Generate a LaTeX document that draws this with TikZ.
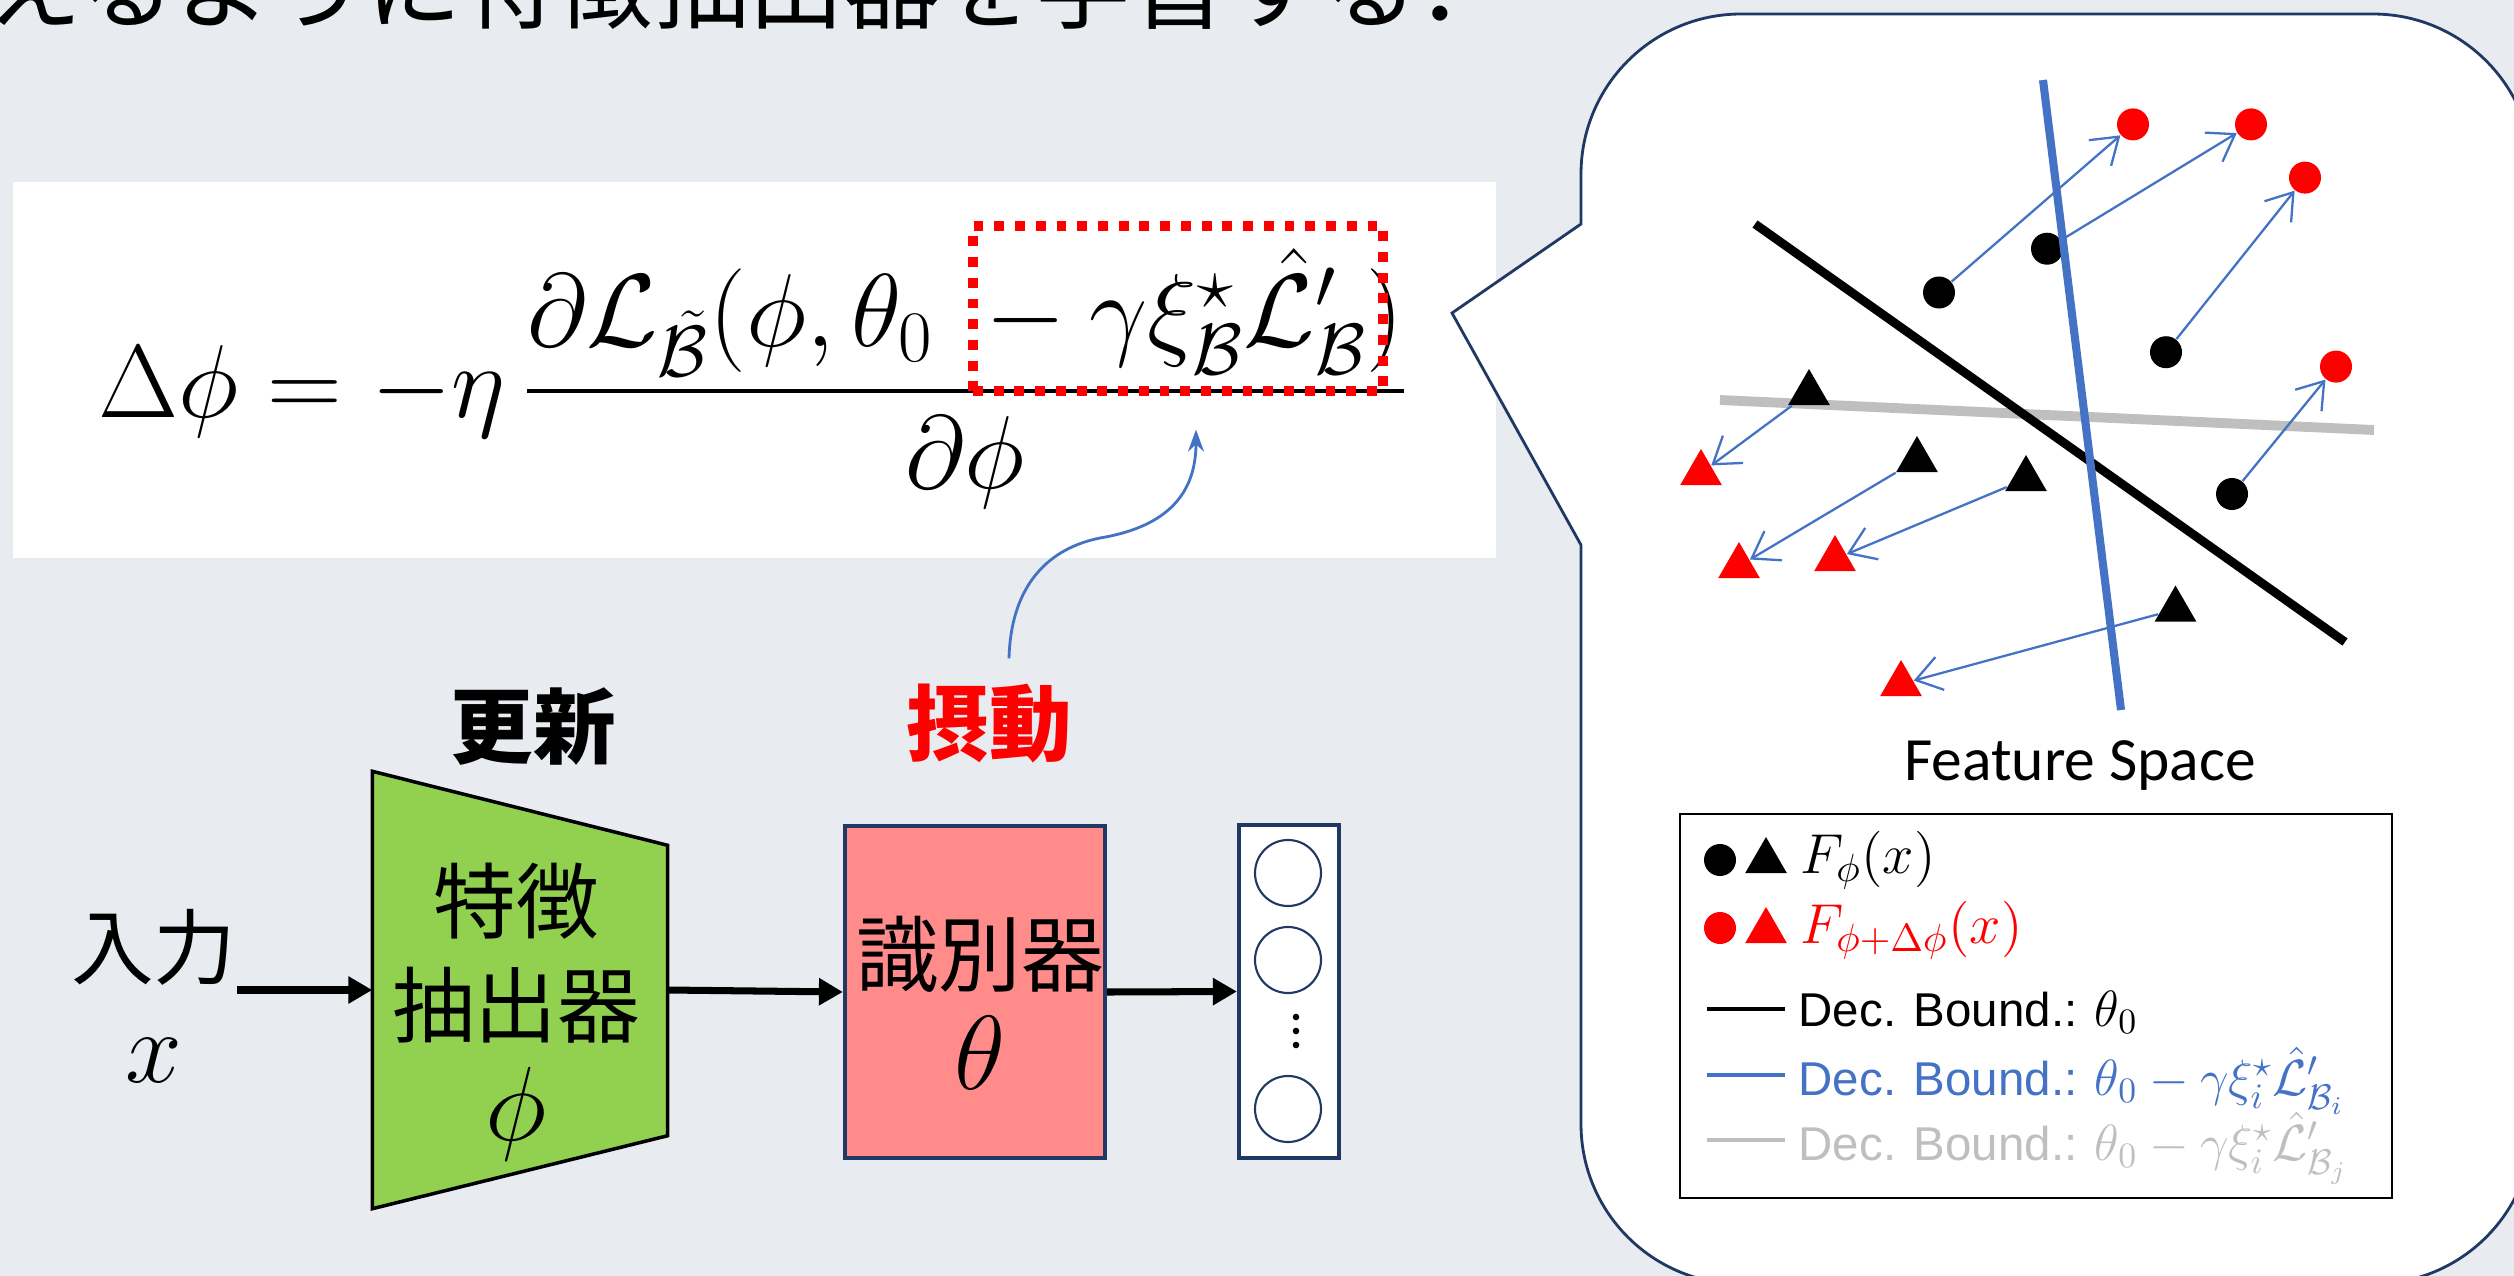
\RequirePackage{fix-cm}
\documentclass[tikz,border=0pt]{standalone}
\usepackage{amsmath,amssymb}
\usepackage{fontspec}
\newfontfamily\jpfont{Noto Sans CJK JP}
\newfontfamily\calibri{Carlito}
\newfontfamily\arial{Liberation Sans}
\usepackage{tikz}
\usetikzlibrary{arrows.meta,positioning,calc,shapes.geometric}
\definecolor{slide}{RGB}{232,235,240}
\definecolor{navy}{RGB}{31,56,100}
\definecolor{officeblue}{RGB}{68,114,196}
\definecolor{leaf}{RGB}{146,208,80}
\definecolor{salmon}{RGB}{255,139,139}
\definecolor{boundgray}{RGB}{191,191,191}
% bigger math inside the slide texts
\newcommand{\bigmath}[2]{{\fontsize{#1}{#1}\selectfont$#2$}}

\begin{document}
\begin{tikzpicture}[
      jp/.style={font=\jpfont\fontsize{23.5}{29.5}\selectfont, align=center, inner sep=0pt},
      heading/.style={font=\jpfont\bfseries\fontsize{23.5}{28}\selectfont, inner sep=0pt},
      flow/.style={-{Triangle[length=2.4mm,width=2.6mm]}, line width=2pt},
      fdot/.style={circle, inner sep=0pt, minimum size=3.2mm, fill=#1},
      ftri/.style={regular polygon, regular polygon sides=3, inner sep=0pt,
                   minimum size=4.8mm, fill=#1},
      moved/.style={officeblue, line width=0.65pt,
                    -{Straight Barb[length=2.5mm,width=3.4mm]}},
      key/.style={anchor=base west, inner sep=0pt, font=\fontsize{13.5}{16}\selectfont},
    ]
    % Canvas
    \useasboundingbox (0,0) rectangle (25.14,-12.76);
    \clip (0,0) rectangle (25.14,-12.76);
    \fill[slide] (0,0) rectangle (25.14,-12.76);

    % Caption line cut at the top
    \node[anchor=base west, inner sep=0pt, font=\jpfont\fontsize{27.2}{30}\selectfont]
      (caption) at (-0.14,-0.21) {えるように特徴抽出器を学習する．};

    % Update rule
    \fill[white] (0.13,-1.82) rectangle (14.96,-5.58);
    \node[anchor=base west, inner sep=0pt, font=\fontsize{29.5}{35}\selectfont] (rule) at (0.98,-4.17)
      {$\displaystyle\Delta\phi=-\eta\,\frac{\partial\mathcal{L}_{\tilde{\mathcal{B}}}(\phi,\theta_0\;-\gamma\xi^{\star}_{\mathcal{B}}\hat{\mathcal{L}}'_{\mathcal{B}})}{\partial\phi}$};
    \node[draw=red, line width=2.6pt, dash pattern=on 2.8pt off 3.1pt,
          minimum width=4.1cm, minimum height=1.65cm, inner sep=0pt] (pert) at (11.78,-3.085) {};

    % Network
    \node[jp] (inp) at (1.54,-9.96) {入力\\\bigmath{29}{x}};
    \node[minimum width=2.94cm, minimum height=4.36cm, inner sep=0pt] (fe) at (5.20,-9.90) {};
    \draw[fill=leaf, line width=1pt] (fe.north west) -- ($(fe.north east)+(0,-0.74)$)
      -- ($(fe.south east)+(0,0.73)$) -- (fe.south west) -- cycle;
    \node[jp] (fetext) at (5.16,-10.12) {特徴\\抽出器\\\bigmath{30}{\phi}};
    \node[draw=navy, fill=salmon, line width=1.2pt, minimum width=2.6cm,
          minimum height=3.32cm] (clf) at (9.75,-9.92) {};
    \node[jp] (clftext) at (9.80,-10.03) {識別器\\\bigmath{30}{\theta}};
    \node[draw=navy, fill=white, line width=1.2pt, minimum width=1cm,
          minimum height=3.33cm] (outp) at (12.89,-9.915) {};
    \foreach \y/\n in {-8.73/1,-9.60/2,-11.09/3}
      \node[circle, draw=navy, line width=0.6pt, minimum size=6.6mm, inner sep=0pt] (o\n) at (12.88,\y) {};
    \foreach \y in {-10.17,-10.31,-10.45}
      \fill (12.96,\y) circle (0.033);

    \node[heading, above=0.5mm of fe, xshift=1.3mm] (update) {更新};
    \node[heading, text=red, above=6mm of clf, xshift=1.4mm] (perturb) {摂動};

    \draw[flow] (inp.east |- fe.west) -- (fe.west);
    \draw[flow] (fe.east) -- (clf.west);
    \draw[flow] (clf.east) -- (outp.west);

    % Pointer to the perturbed term
    \coordinate (bend) at (11.00,-5.38);
    \draw[officeblue, line width=0.8pt, -{Stealth[length=2.2mm,width=1.6mm]}]
      ([xshift=2mm,yshift=2.5mm]perturb.north) .. controls +(0.02,0.75) and +(-0.5,-0.1) .. (bend)
      .. controls +(0.6,0.1) and +(0,-0.7) .. ($(pert.south)+(0.18,-0.34)$);

    % Callout
    \draw[navy, fill=white, line width=0.8pt] (15.81,-2.24) -- (14.52,-3.13) -- (15.81,-5.45)
      -- (15.81,-11.24) arc[start angle=180, end angle=270, radius=1.6]
      -- (23.73,-12.84) arc[start angle=270, end angle=360, radius=1.6]
      -- (25.33,-1.74) arc[start angle=0, end angle=90, radius=1.6]
      -- (17.41,-0.14) arc[start angle=90, end angle=180, radius=1.6] -- cycle;

    % Feature space
    \draw[boundgray, line width=2.8pt] (17.20,-4.00) -- (23.74,-4.30);
    \draw[black, line width=2.5pt] (17.55,-2.24) -- (23.45,-6.42);

    \node[fdot=black] (d1) at (19.39,-2.925) {};
    \node[fdot=black] (d2) at (20.47,-2.487) {};
    \node[fdot=black] (d3) at (21.66,-3.522) {};
    \node[fdot=black] (d4) at (22.32,-4.94) {};
    \node[fdot=red] (e1) at (21.33,-1.244) {};
    \node[fdot=red] (e2) at (22.51,-1.244) {};
    \node[fdot=red] (e3) at (23.05,-1.776) {};
    \node[fdot=red] (e4) at (23.36,-3.666) {};

    \node[ftri=black] (t1) at (18.09,-3.93) {};
    \node[ftri=black] (t2) at (19.17,-4.60) {};
    \node[ftri=black] (t3) at (20.26,-4.79) {};
    \node[ftri=black] (t4) at (21.755,-6.095) {};
    \node[ftri=red] (r1) at (17.01,-4.73) {};
    \node[ftri=red] (r2) at (17.39,-5.66) {};
    \node[ftri=red] (r3) at (18.35,-5.59) {};
    \node[ftri=red] (r4) at (19.01,-6.84) {};

    \draw[officeblue, line width=2.3pt] (20.43,-0.80) -- (21.21,-7.10);

    \foreach \a/\b in {d1/e1,d2/e2,d3/e3,d4/e4,t1/r1,t2/r2,t3/r3,t4/r4}
      \draw[moved] (\a) -- (\b);

    \node[anchor=base, inner sep=0pt, font=\calibri\fontsize{17.5}{20}\selectfont]
      (fs) at (20.80,-7.80) {Feature Space};

    % Legend
    \node[draw, fill=white, line width=0.7pt, minimum width=7.12cm,
          minimum height=3.84cm] (legend) at (20.36,-10.06) {};
    \node[fdot=black] (kd1) at (17.20,-8.60) {};
    \node[ftri=black] (kt1) at (17.66,-8.61) {};
    \node[key] (k1) at (18.00,-8.73) {\bigmath{16}{F_{\phi}(x)}};
    \node[fdot=red] (kd2) at (17.20,-9.28) {};
    \node[ftri=red] (kt2) at (17.66,-9.31) {};
    \node[key, text=red] (k2) at (18.00,-9.43) {\bigmath{16}{F_{\phi+\Delta\phi}(x)}};
    \draw[line width=1.1pt] (17.07,-10.09) -- (17.85,-10.09);
    \node[key] (k3) at (17.98,-10.26) {\arial Dec. Bound.: \bigmath{14.5}{\theta_0}};
    \draw[officeblue, line width=1.1pt] (17.07,-10.75) -- (17.85,-10.75);
    \node[key, text=officeblue] (k4) at (17.98,-10.95)
      {\arial Dec. Bound.: \bigmath{14.5}{\theta_0-\gamma\xi^{\star}_{i}\hat{\mathcal{L}}'_{\mathcal{B}_i}}};
    \draw[boundgray, line width=1.1pt] (17.07,-11.40) -- (17.85,-11.40);
    \node[key, text=boundgray] (k5) at (17.98,-11.60)
      {\arial Dec. Bound.: \bigmath{14.5}{\theta_0-\gamma\xi^{\star}_{i}\hat{\mathcal{L}}'_{\mathcal{B}_j}}};
  \end{tikzpicture}
\end{document}
